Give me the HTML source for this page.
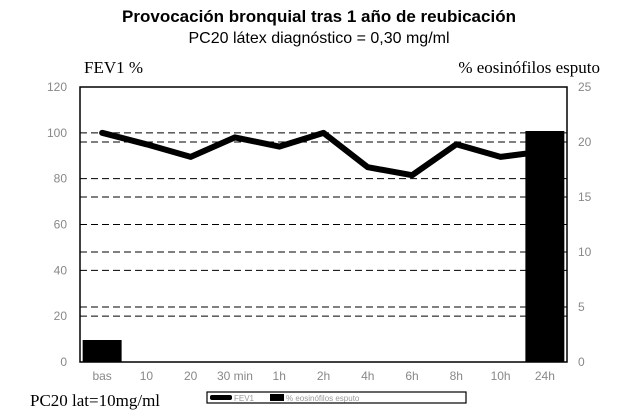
<!DOCTYPE html>
<html><head><meta charset="utf-8"><style>
body{margin:0;background:#fff;width:638px;height:420px;overflow:hidden}
svg{display:block}
.t{font-family:"Liberation Sans",sans-serif}
.s{font-family:"Liberation Serif",serif}
</style></head><body>
<svg id="c" width="638" height="420" xmlns="http://www.w3.org/2000/svg">
<text class="t" x="319" y="22" text-anchor="middle" font-size="17" font-weight="bold">Provocación bronquial tras 1 año de reubicación</text>
<text class="t" x="319" y="43" text-anchor="middle" font-size="16">PC20 látex diagnóstico = 0,30 mg/ml</text>
<text class="s" x="84" y="73" font-size="17">FEV1 %</text>
<text class="s" x="600" y="73" text-anchor="end" font-size="17">% eosinófilos esputo</text>
<text class="s" x="30" y="406" font-size="17">PC20 lat=10mg/ml</text>
<g id="plot"></g>
<g>
<rect x="207" y="392" width="259" height="11" fill="#fff" stroke="#000" stroke-width="1.2"/>
<rect x="210" y="395" width="22" height="5" rx="2" fill="#000"/>
<text class="t" x="234" y="401" font-size="8" fill="#999">FEV1</text>
<rect x="270" y="394" width="14" height="7" fill="#000"/>
<text class="t" x="286" y="401" font-size="8" fill="#999">% eosinófilos esputo</text>
</g>
</svg>
<script>
const categories=["bas","10","20","30 min","1h","2h","4h","6h","8h","10h","24h"];
const fev1=[100,95,89.5,98,94,100,85,81.5,95,89.5,92];
const eos=[2,null,null,null,null,null,null,null,null,null,21];
const leftTicks=[0,20,40,60,80,100,120];
const rightTicks=[0,5,10,15,20,25];
const leftGrid=[20,40,60,80,100];
const rightGrid=[5,10,15,20];
const NS="http://www.w3.org/2000/svg";
const X0=80,X1=567,Y0=362,Y1=87;
const bw=(X1-X0)/categories.length;
const xc=i=>X0+bw*(i+0.5);
const yl=v=>Y0-(v/120)*(Y0-Y1);
const yr=v=>Y0-(v/25)*(Y0-Y1);
const g=document.getElementById('plot');
function mk(t,a){const e=document.createElementNS(NS,t);for(const k in a)e.setAttribute(k,a[k]);g.appendChild(e);return e;}
const frame=mk('rect',{x:X0,y:Y1,width:X1-X0,height:Y0-Y1,fill:'none',stroke:'#000','stroke-width':1.5});


leftGrid.forEach(v=>{const l=mk('line',{x1:X0,x2:X1,y1:yl(v),y2:yl(v),stroke:'#000','stroke-dasharray':'7,4','stroke-width':1});

});
rightGrid.forEach(v=>{const l=mk('line',{x1:X0,x2:X1,y1:yr(v),y2:yr(v),stroke:'#000','stroke-dasharray':'7,4','stroke-width':1});

});
leftTicks.forEach(v=>{const t=mk('text',{x:67,y:yl(v)+4,'text-anchor':'end','font-size':12,fill:'#888',class:'t'});t.textContent=v;

});
rightTicks.forEach(v=>{const t=mk('text',{x:578,y:yr(v)+4,'font-size':12,fill:'#888',class:'t'});t.textContent=v;

});
categories.forEach((c,i)=>{const t=mk('text',{x:xc(i),y:380,'text-anchor':'middle','font-size':12,fill:'#888',class:'t'});t.textContent=c;

});
eos.forEach((v,i)=>{if(v==null)return;const w=bw*0.88;const r=mk('rect',{x:xc(i)-w/2,y:yr(v),width:w,height:Y0-yr(v),fill:'#000'});

});
const p=mk('polyline',{points:fev1.map((v,i)=>xc(i)+','+yl(v)).join(' '),fill:'none',stroke:'#000','stroke-width':6,'stroke-linejoin':'round','stroke-linecap':'round'});


</script>
</body></html>
